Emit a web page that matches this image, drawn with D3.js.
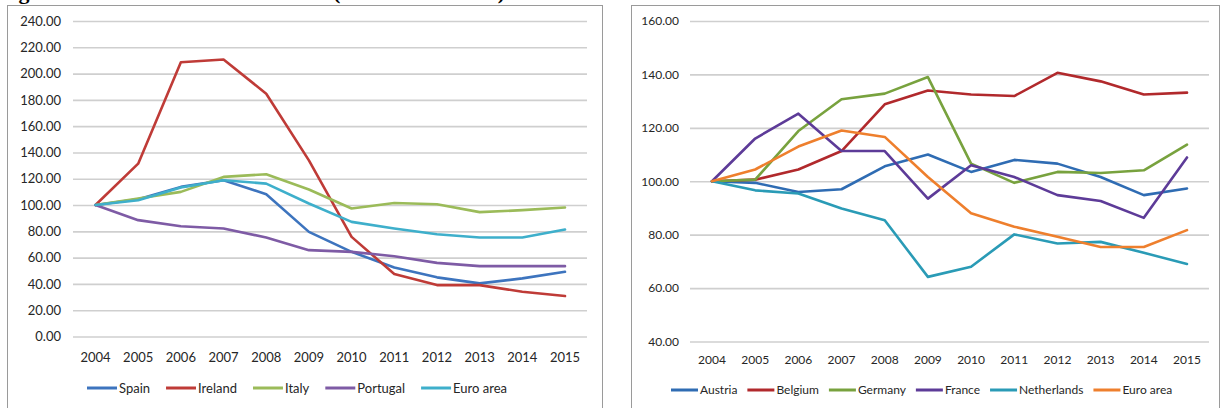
<!DOCTYPE html>
<html><head><meta charset="utf-8">
<script src="https://cdn.jsdelivr.net/npm/d3@7"></script>
<style>
body{margin:0;background:#fff;}
svg{display:block;font-family:Lato,'Open Sans',sans-serif;}
</style>
</head><body>
<svg id="chart" width="1224" height="408"></svg>
<script>
// ---------- DATA ----------
const years = [2004,2005,2006,2007,2008,2009,2010,2011,2012,2013,2014,2015];

// Left panel
const leftNames = ["Spain","Ireland","Italy","Portugal","Euro area"];
const spain    = [100,104.4,113.8,118.9,108.2,79.6,64.4,52.5,45.0,40.4,44.2,49.2];
const ireland  = [100,131.5,208.6,210.7,184.7,134.0,75.8,47.5,39.1,39.1,34.0,30.8];
const italy    = [100,105.0,110.0,121.4,123.4,111.8,97.4,101.6,100.6,94.6,96.1,98.1];
const portugal = [100,88.5,83.9,82.2,75.3,65.7,64.4,61.1,56.0,53.5,53.5,53.5];
const euroLeft = [100,103.7,113.3,118.9,116.3,101.2,87.2,82.2,77.8,75.3,75.3,81.4];
const leftTicks = [0,20,40,60,80,100,120,140,160,180,200,220,240];

// Right panel
const rightNames = ["Austria","Belgium","Germany","France","Netherlands","Euro area"];
const austria     = [100,99.4,96.0,97.0,105.6,110.0,103.5,108.0,106.6,101.6,94.8,97.3];
const belgium     = [100,100.6,104.4,111.3,128.8,134.0,132.5,131.9,140.6,137.4,132.5,133.2];
const germany     = [100,100.6,118.8,130.7,132.8,139.0,106.6,99.4,103.5,103.1,104.1,113.7];
const france      = [100,116.0,125.3,111.3,111.3,93.5,106.0,101.6,94.8,92.6,86.3,108.9];
const netherlands = [100,96.6,95.4,89.8,85.4,64.2,68.0,80.1,76.7,77.3,73.2,69.0];
const euroRight   = [100,104.4,113.0,119.0,116.6,101.6,88.0,83.0,79.2,75.4,75.4,81.7];
const rightTicks = [40,60,80,100,120,140,160];

// ---------- CONFIG ----------
const leftColors  = ["#3D74BE","#BF3B37","#9BBB59","#7E5BA5","#3EAFCB"];
const rightColors = ["#2F6CB3","#B1292C","#78A23E","#5D3B98","#2A9BB6","#EE7F2D"];

const panels = [
  {
    box:{x:7.5,y:5.5,w:595,h:420},
    grid:[73,587], pts:[95.5,565], yDom:[0,240], yRange:[336.5,21],
    ticks:leftTicks, font:13, labelPad:12, xLabelY:357, legendY:388, legendX:87,
    legLine:30, legGap:16,
    names:leftNames, series:[spain,ireland,italy,portugal,euroLeft], colors:leftColors
  },
  {
    box:{x:631.5,y:5.5,w:588,h:420},
    grid:[690,1209], pts:[712,1187], yDom:[40,160], yRange:[341.5,21],
    ticks:rightTicks, font:12, labelPad:11, xLabelY:360, legendY:390, legendX:671,
    legLine:27, legGap:10,
    names:rightNames, series:[austria,belgium,germany,france,netherlands,euroRight], colors:rightColors
  }
];

const svg = d3.select("#chart");

// Title (cut off at the top of the picture)
svg.append("text").attr("x",-1).attr("y",-1)
  .attr("font-family","'Liberation Serif',serif").attr("font-weight","bold").attr("font-size",22)
  .attr("fill","#000").text("Figure 6: Real house index");
svg.append("text").attr("x",333).attr("y",-1)
  .attr("font-family","'Liberation Serif',serif").attr("font-weight","bold").attr("font-size",22)
  .attr("fill","#000").text("(index 2004 = 100)");

panels.forEach(p => {
  const g = svg.append("g");
  g.append("rect").attr("x",p.box.x).attr("y",p.box.y).attr("width",p.box.w).attr("height",p.box.h)
    .attr("fill","#fff").attr("stroke","#9a9a9a").attr("stroke-width",1);

  const x = d3.scalePoint().domain(years).range(p.pts);
  const y = d3.scaleLinear().domain(p.yDom).range(p.yRange);

  // y axis with gridlines
  const yAxis = d3.axisLeft(y).tickValues(p.ticks).tickFormat(d3.format(".2f"))
    .tickSizeInner(-(p.grid[1]-p.grid[0])).tickSizeOuter(0).tickPadding(p.labelPad);
  const ya = g.append("g").attr("transform",`translate(${p.grid[0]},0)`).call(yAxis);
  ya.select(".domain").remove();
  ya.selectAll(".tick line").attr("stroke","#cfcfcf").attr("stroke-width",1.6);
  ya.selectAll(".tick text").attr("font-size",p.font).attr("fill","#262626")
    .attr("font-family","Lato,sans-serif");

  // x labels
  g.selectAll(".xl").data(years).enter().append("text")
    .attr("x",d=>x(d)).attr("y",p.xLabelY).attr("dy","0.35em")
    .attr("text-anchor","middle").attr("font-size",p.font).attr("fill","#262626")
    .text(d=>d);

  // lines
  const line = d3.line().x((d,i)=>x(years[i])).y(d=>y(d));
  p.series.forEach((s,k) => {
    g.append("path").datum(s).attr("d",line).attr("fill","none")
      .attr("stroke",p.colors[k]).attr("stroke-width",2.6)
      .attr("stroke-linejoin","round").attr("stroke-linecap","round");
  });

  // legend
  let cx = p.legendX;
  p.names.forEach((n,k) => {
    g.append("line").attr("x1",cx).attr("x2",cx+p.legLine)
      .attr("y1",p.legendY).attr("y2",p.legendY)
      .attr("stroke",p.colors[k]).attr("stroke-width",3);
    const t = g.append("text").attr("x",cx+p.legLine+2).attr("y",p.legendY).attr("dy","0.35em")
      .attr("font-size",p.font).attr("fill","#262626").text(n);
    cx += p.legLine + 2 + t.node().getComputedTextLength() + p.legGap;
  });
});
</script>
</body></html>
